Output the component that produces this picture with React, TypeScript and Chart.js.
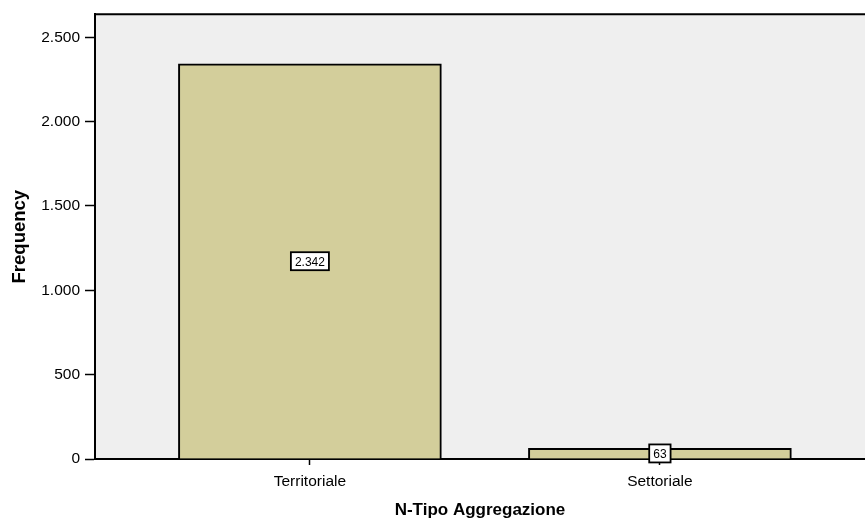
import React, { useEffect, useRef } from "react";
import { Chart, registerables } from "chart.js";

Chart.register(...registerables);

const categories = ["Territoriale", "Settoriale"];
const frequencies = [2342, 63];
const yTicks = [0, 500, 1000, 1500, 2000, 2500];

const fmt = (v: number) => {
  const s = Math.round(v).toString();
  return s.replace(/\B(?=(\d{3})+(?!\d))/g, ".");
};

const FONT = "'Liberation Sans', Arial, sans-serif";

const bgPlugin = {
  id: "bgPlugin",
  beforeDraw(chart: any) {
    const { ctx, chartArea } = chart;
    ctx.save();
    ctx.fillStyle = "#efefef";
    ctx.fillRect(chartArea.left, chartArea.top, chartArea.right - chartArea.left, chartArea.bottom - chartArea.top);
    ctx.restore();
  },
  afterDraw(chart: any) {
    const { ctx, chartArea } = chart;
    ctx.save();
    ctx.strokeStyle = "#000";
    ctx.lineWidth = 2;
    ctx.beginPath();
    ctx.moveTo(chartArea.left, chartArea.top);
    ctx.lineTo(chartArea.right, chartArea.top);
    ctx.stroke();
    ctx.restore();
  },
};

const labelPlugin = {
  id: "labelPlugin",
  afterDatasetsDraw(chart: any) {
    const { ctx } = chart;
    const meta = chart.getDatasetMeta(0);
    ctx.save();
    ctx.font = `12px ${FONT}`;
    ctx.textAlign = "center";
    ctx.textBaseline = "middle";
    meta.data.forEach((el: any, i: number) => {
      const text = fmt(frequencies[i]);
      const w = ctx.measureText(text).width + 8;
      const h = 18;
      const cx = el.x;
      const cy = (el.y + el.base) / 2;
      ctx.fillStyle = "#fff";
      ctx.fillRect(cx - w / 2, cy - h / 2, w, h);
      ctx.strokeStyle = "#000";
      ctx.lineWidth = 1.8;
      ctx.strokeRect(cx - w / 2, cy - h / 2, w, h);
      ctx.fillStyle = "#000";
      ctx.fillText(text, cx, cy + 1);
    });
    ctx.restore();
  },
};

export default function App() {
  const ref = useRef<HTMLCanvasElement>(null);
  useEffect(() => {
    if (!ref.current) return;
    const chart = new Chart(ref.current, {
      type: "bar",
      data: {
        datasets: [
          {
            data: frequencies.map((v, i) => ({ x: i, y: v })),
            backgroundColor: "#d3ce9b",
            borderColor: "#000",
            borderWidth: 2,
            barThickness: 263,
          } as any,
        ],
      },
      options: {
        animation: false,
        responsive: false,
        maintainAspectRatio: false,
        layout: { padding: { top: 14, right: 0, left: 0, bottom: 0 } },
        plugins: { legend: { display: false }, tooltip: { enabled: false } },
        scales: {
          x: {
            type: "linear",
            offset: false,
            min: -0.614,
            max: 1.586,
            afterBuildTicks: (s: any) => {
              s.ticks = categories.map((_, i) => ({ value: i }));
            },
            afterFit: (s: any) => {
              s.height = 63;
            },
            ticks: {
              callback: (v: any) => categories[v] ?? "",
              color: "#000",
              font: { family: FONT, size: 15.5 },
              padding: 7,
              maxRotation: 0,
            },
            grid: { display: true, offset: false, drawOnChartArea: false, drawTicks: true, tickLength: 6, color: "#000", tickWidth: 1.5 },
            border: { display: true, color: "#000", width: 2 },
            title: {
              display: true,
              text: "N-Tipo Aggregazione",
              color: "#000",
              font: { family: FONT, size: 17, weight: "bold" },
              padding: { top: 0, bottom: 1 },
            },
          },
          y: {
            min: 0,
            max: 2636,
            afterBuildTicks: (s: any) => {
              s.ticks = yTicks.map((v) => ({ value: v }));
            },
            afterFit: (s: any) => {
              s.width = 95;
            },
            ticks: {
              callback: (v: any) => fmt(v),
              color: "#000",
              font: { family: FONT, size: 15.5 },
              padding: 5,
            },
            grid: { display: true, drawOnChartArea: false, drawTicks: true, tickLength: 10, color: "#000", tickWidth: 1.5 },
            border: { display: true, color: "#000", width: 2 },
            title: {
              display: true,
              text: "Frequency",
              color: "#000",
              font: { family: FONT, size: 18.5, weight: "bold" },
              padding: { top: 9, bottom: 0 },
            },
          },
        },
      },
      plugins: [bgPlugin, labelPlugin],
    } as any);
    return () => chart.destroy();
  }, []);
  return (
    <div style={{ position: "fixed", left: 0, top: 0, width: 865, height: 522, background: "#fff" }}>
      <canvas ref={ref} width={865} height={522} style={{ width: 865, height: 522 }} />
    </div>
  );
}
